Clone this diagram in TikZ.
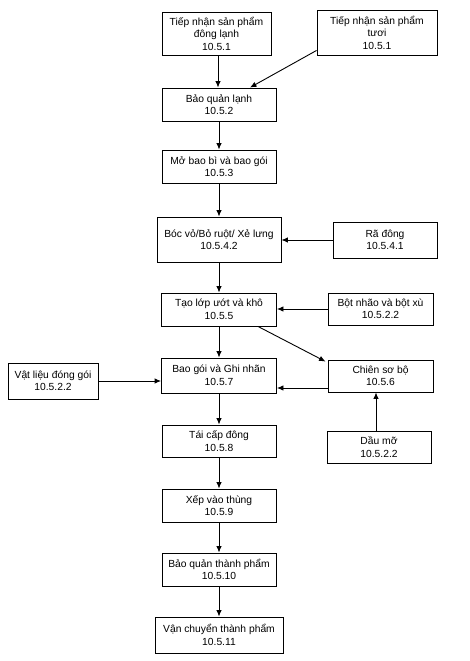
\documentclass[tikz,border=0pt]{standalone}
\usepackage{fontspec}
\setmainfont{Liberation Sans}
\usetikzlibrary{arrows.meta}
\begin{document}
\begin{tikzpicture}[x=1pt,y=-1pt,
  box/.style={draw, line width=0.9pt, align=center, inner sep=0pt,
    font=\fontsize{10.3}{12.5}\selectfont},
  arr/.style={line width=0.9pt, -{Latex[length=6.5pt,width=5.5pt]}}]
\useasboundingbox (0,0) rectangle (469,661);
\node[box, minimum width=109pt, minimum height=43pt] (n1) at (216.5,33.5) {Tiếp nhận sản phẩm\\đông lạnh\\10.5.1};
\node[box, minimum width=120pt, minimum height=45pt] (n2) at (377,32.5) {Tiếp nhận sản phẩm\\tươi\\10.5.1};
\node[box, minimum width=114pt, minimum height=33pt] (bql) at (219,104.5) {Bảo quản lạnh\\10.5.2};
\node[box, minimum width=114pt, minimum height=33pt] (mobao) at (219,166.5) {Mở bao bì và bao gói\\10.5.3};
\node[box, minimum width=124pt, minimum height=45pt] (bocvo) at (219,239.5) {Bóc vỏ/Bỏ ruột/ Xẻ lưng\\10.5.4.2};
\node[box, minimum width=104pt, minimum height=36pt] (radong) at (385,240) {Rã đông\\10.5.4.1};
\node[box, minimum width=115pt, minimum height=33pt] (taolop) at (219,309.5) {Tạo lớp ướt và khô\\10.5.5};
\node[box, minimum width=105pt, minimum height=32pt] (botnhao) at (380.5,309) {Bột nhão và bột xù\\10.5.2.2};
\node[box, minimum width=115pt, minimum height=35pt] (baogoi) at (219,375.5) {Bao gói và Ghi nhãn\\10.5.7};
\node[box, minimum width=90pt, minimum height=36pt] (vatlieu) at (53,381) {Vật liệu đóng gói\\10.5.2.2};
\node[box, minimum width=105pt, minimum height=32pt] (chien) at (380.5,376) {Chiên sơ bộ\\10.5.6};
\node[box, minimum width=114pt, minimum height=32pt] (taicap) at (219,441) {Tái cấp đông\\10.5.8};
\node[box, minimum width=104pt, minimum height=32pt] (daumo) at (379,447) {Dầu mỡ\\10.5.2.2};
\node[box, minimum width=114pt, minimum height=33pt] (xep) at (219,505.5) {Xếp vào thùng\\10.5.9};
\node[box, minimum width=114pt, minimum height=33pt] (bqtp) at (219,569.5) {Bảo quản thành phẩm\\10.5.10};
\node[box, minimum width=128pt, minimum height=36pt] (vanchuyen) at (219,635) {Vận chuyển thành phẩm\\10.5.11};

\draw[arr] ([xshift=1.5pt]n1.south) -- ([xshift=1.5pt]n1.south |- bql.north);
\draw[arr] ([yshift=5pt]n2.south west) -- ([xshift=31pt]bql.north);
\draw[arr] (bql.south) -- (mobao.north);
\draw[arr] (mobao.south) -- (bocvo.north);
\draw[arr] (radong.west) -- (radong.west -| bocvo.east);
\draw[arr] (bocvo.south) -- (taolop.north);
\draw[arr] (botnhao.west) -- (botnhao.west -| taolop.east);
\draw[arr] (taolop.south) -- (baogoi.north);
\draw[arr] ([xshift=39pt]taolop.south) -- ([xshift=-2pt,yshift=-2pt]chien.north west);
\draw[arr] (vatlieu.east) -- (vatlieu.east -| baogoi.west);
\draw[arr] ([yshift=-12pt]chien.west) -- ([yshift=-12pt]chien.west -| baogoi.east);
\draw[arr] ([xshift=-3pt]daumo.north) -- ([xshift=-3pt]daumo.north |- chien.south);
\draw[arr] (baogoi.south) -- (taicap.north);
\draw[arr] (taicap.south) -- (xep.north);
\draw[arr] (xep.south) -- (bqtp.north);
\draw[arr] (bqtp.south) -- (vanchuyen.north);
\end{tikzpicture}
\end{document}
